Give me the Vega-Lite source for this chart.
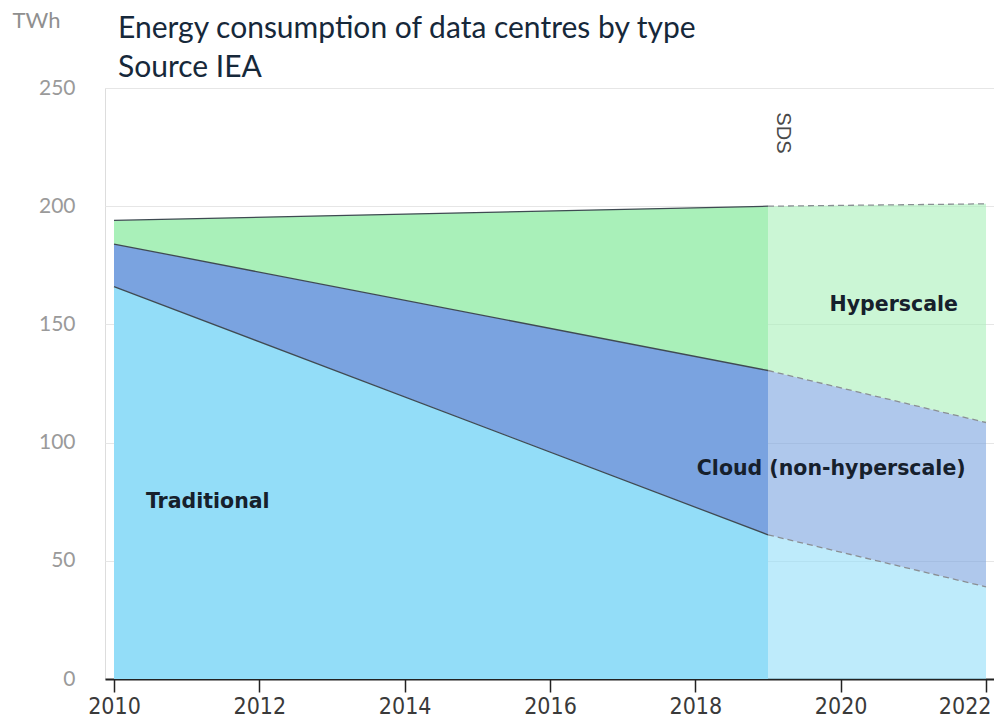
{
  "$schema": "https://vega.github.io/schema/vega-lite/v6.json",
  "autosize": {"type": "none"},
  "width": 889,
  "height": 591,
  "padding": {"left": 105, "top": 88, "right": 0, "bottom": 42},
  "background": "white",
  "title": {
    "text": ["Energy consumption of data centres by type", "Source IEA"],
    "anchor": "start",
    "frame": "group",
    "dx": 13,
    "offset": -74,
    "font": "Lato",
    "fontSize": 30,
    "fontWeight": "normal",
    "color": "#16283a",
    "lineHeight": 39
  },
  "datasets": {
    "energy": [
      {"year": 2010, "series": "Traditional", "rank": 1, "period": "hist", "twh": 166},
      {"year": 2019, "series": "Traditional", "rank": 1, "period": "hist", "twh": 61},
      {"year": 2010, "series": "Cloud (non-hyperscale)", "rank": 2, "period": "hist", "twh": 18},
      {"year": 2019, "series": "Cloud (non-hyperscale)", "rank": 2, "period": "hist", "twh": 69.5},
      {"year": 2010, "series": "Hyperscale", "rank": 3, "period": "hist", "twh": 10},
      {"year": 2019, "series": "Hyperscale", "rank": 3, "period": "hist", "twh": 69.5},
      {"year": 2019, "series": "Traditional", "rank": 1, "period": "proj", "twh": 61},
      {"year": 2022, "series": "Traditional", "rank": 1, "period": "proj", "twh": 39},
      {"year": 2019, "series": "Cloud (non-hyperscale)", "rank": 2, "period": "proj", "twh": 69.5},
      {"year": 2022, "series": "Cloud (non-hyperscale)", "rank": 2, "period": "proj", "twh": 69.5},
      {"year": 2019, "series": "Hyperscale", "rank": 3, "period": "proj", "twh": 69.5},
      {"year": 2022, "series": "Hyperscale", "rank": 3, "period": "proj", "twh": 92.5}
    ],
    "labels": [
      {"year": 2011.29, "twh": 75, "label": "Traditional"},
      {"year": 2019.87, "twh": 89, "label": "Cloud (non-hyperscale)"},
      {"year": 2020.73, "twh": 158, "label": "Hyperscale"}
    ]
  },
  "data": {"name": "energy"},
  "encoding": {
    "x": {
      "field": "year",
      "type": "quantitative",
      "scale": {"domain": [2009.876, 2022.11], "nice": false, "zero": false},
      "axis": {
        "title": null,
        "values": [2010, 2012, 2014, 2016, 2018, 2020, 2022],
        "format": "d",
        "grid": false,
        "domainColor": "#222222",
        "domainWidth": 2,
        "tickColor": "#222222",
        "tickWidth": 1.5,
        "tickSize": 13,
        "labelFont": "'DejaVu Sans Condensed', Roboto",
        "labelFontSize": 23,
        "labelColor": "#3a3a3a",
        "labelPadding": 3,
        "labelAlign": {"condition": {"test": "datum.value == 2022", "value": "right"}, "value": "center"},
        "labelOffset": {"condition": {"test": "datum.value == 2022", "value": 5}, "value": 0}
      }
    },
    "y": {
      "field": "twh",
      "type": "quantitative",
      "stack": "zero",
      "scale": {"domain": [0, 250], "nice": false},
      "axis": {
        "values": [0, 50, 100, 150, 200, 250],
        "domain": false,
        "ticks": false,
        "grid": true,
        "gridColor": "#e6e6e6",
        "gridWidth": 1,
        "labelFont": "Lato",
        "labelFontSize": 21,
        "labelColor": "#9a9a9a",
        "labelPadding": 30,
        "title": "TWh",
        "titleAngle": 0,
        "titleAlign": "left",
        "titleBaseline": "middle",
        "titleX": -93,
        "titleY": -68,
        "titleFont": "Lato",
        "titleFontSize": 22,
        "titleFontWeight": "normal",
        "titleColor": "#8f8f8f"
      }
    },
    "order": {"field": "rank", "type": "quantitative"}
  },
  "layer": [
    {
      "transform": [{"filter": "datum.period == 'hist'"}],
      "mark": {"type": "area"},
      "encoding": {
        "color": {
          "field": "series",
          "type": "nominal",
          "scale": {
            "domain": ["Traditional", "Cloud (non-hyperscale)", "Hyperscale"],
            "range": ["#93ddf8", "#7aa3e0", "#a9f0b9"]
          },
          "legend": null
        }
      }
    },
    {
      "transform": [{"filter": "datum.period == 'proj'"}],
      "mark": {"type": "area", "fillOpacity": 0.6},
      "encoding": {
        "color": {"field": "series", "type": "nominal", "legend": null}
      }
    },
    {
      "transform": [{"filter": "datum.period == 'hist'"}],
      "mark": {"type": "line", "color": "#3f4a52", "strokeWidth": 1.3},
      "encoding": {"detail": {"field": "series"}}
    },
    {
      "transform": [{"filter": "datum.period == 'proj'"}],
      "mark": {"type": "line", "color": "#8a8f94", "strokeWidth": 1.3, "strokeDash": [6, 4]},
      "encoding": {"detail": {"field": "series"}}
    },
    {
      "data": {"values": [{}]},
      "mark": {"type": "rule", "color": "#9a9a9a", "strokeDash": [1.5, 4.5], "strokeWidth": 1.5},
      "encoding": {"x": {"datum": 2019}, "y": null, "order": null}
    },
    {
      "data": {"values": [{"year": 2019, "twh": 231, "label": "SDS"}]},
      "mark": {"type": "text", "angle": 90, "align": "center", "baseline": "bottom", "font": "Liberation Sans", "fontSize": 20, "color": "#4a4a4a", "dy": -5},
      "encoding": {"text": {"field": "label"}, "y": {"field": "twh", "type": "quantitative", "stack": null}, "order": null}
    },
    {
      "data": {"name": "labels"},
      "mark": {"type": "text", "align": "center", "baseline": "middle", "font": "DejaVu Sans", "fontWeight": "bold", "fontSize": 20.5, "color": "#16202c"},
      "encoding": {"text": {"field": "label"}, "y": {"field": "twh", "type": "quantitative", "stack": null}, "order": null}
    }
  ]
}
